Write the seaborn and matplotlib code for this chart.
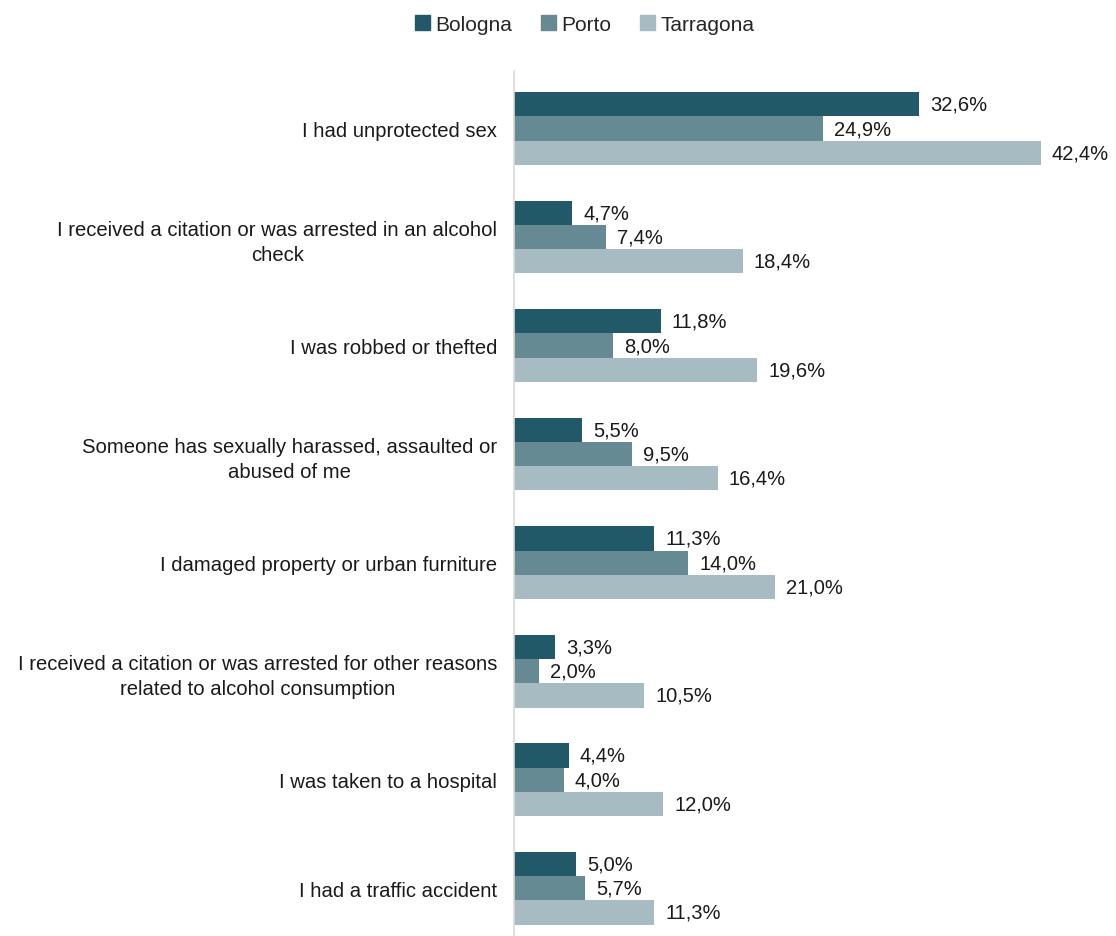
import matplotlib
matplotlib.use("Agg")
import matplotlib.pyplot as plt
import seaborn as sns
import pandas as pd

categories = [
    "I had unprotected sex",
    "I received a citation or was arrested in an alcohol\ncheck",
    "I was robbed or thefted",
    "Someone has sexually harassed, assaulted or\nabused of me",
    "I damaged property or urban furniture",
    "I received a citation or was arrested for other reasons\nrelated to alcohol consumption",
    "I was taken to a hospital",
    "I had a traffic accident",
]
cities = ["Bologna", "Porto", "Tarragona"]
bologna = [32.6, 4.7, 11.8, 5.5, 11.3, 3.3, 4.4, 5.0]
porto = [24.9, 7.4, 8.0, 9.5, 14.0, 2.0, 4.0, 5.7]
tarragona = [42.4, 18.4, 19.6, 16.4, 21.0, 10.5, 12.0, 11.3]
colors = ["#215968", "#658A93", "#A7BCC2"]

rows = []
for city, vals in zip(cities, [bologna, porto, tarragona]):
    for cat, v in zip(categories, vals):
        rows.append({"category": cat, "city": city, "value": v})
df = pd.DataFrame(rows)

sns.set_theme(style="white")
plt.rcParams["font.family"] = ["Liberation Sans", "DejaVu Sans"]

fig = plt.figure(figsize=(11.16, 9.37), dpi=100)
ax = fig.add_axes([514 / 1116, 0.0, 600 / 1116, (937 - 72) / 937])

sns.barplot(data=df, y="category", x="value", hue="city", order=categories,
            hue_order=cities, palette=colors, orient="h", width=0.67,
            saturation=1, linewidth=0, ax=ax, legend=False)

for cont, vals in zip(ax.containers, [bologna, porto, tarragona]):
    ax.bar_label(cont, labels=[f"{v:.1f}%".replace(".", ",") for v in vals],
                 padding=8, fontsize=14.5, color="#1a1a1a")

ax.set_xlim(0, 48.3)
ax.set_ylim(7.44, -0.53)
ax.set_xlabel("")
ax.set_ylabel("")
ax.set_xticks([])
for side in ["top", "right", "bottom"]:
    ax.spines[side].set_visible(False)
ax.spines["left"].set_color("#d9d9d9")
ax.spines["left"].set_linewidth(1.2)
ax.tick_params(axis="y", length=0, pad=12, labelsize=14.6, labelcolor="#1a1a1a")
for t in ax.get_yticklabels():
    t.set_multialignment("center")
    t.set_linespacing(1.4)

handles = [plt.Rectangle((0, 0), 1, 1, color=c) for c in colors]
fig.legend(handles, cities, loc="center", bbox_to_anchor=(0.524, 0.973),
           ncol=3, frameon=False, fontsize=15, handlelength=0.7,
           handleheight=0.7, handletextpad=0.25, columnspacing=1.4)

fig.savefig("out.png", dpi=100)
